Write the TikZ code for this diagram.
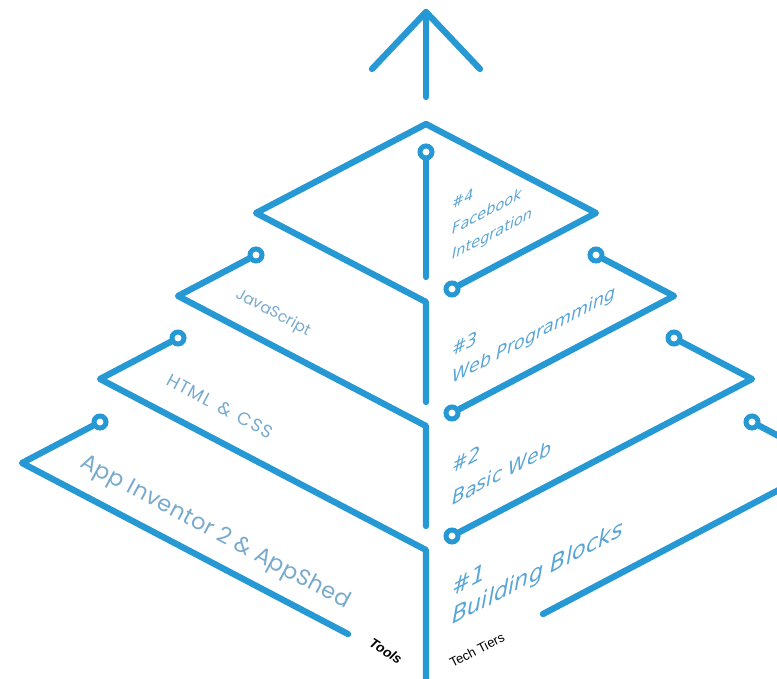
\documentclass[tikz,border=0pt]{standalone}
\usepackage{fontspec}
\setmainfont{DejaVu Sans}
\newfontfamily\rightfont{DejaVu Sans}
\newfontfamily\leftfont{Poppins}
\newfontfamily\tinyfont{Liberation Sans}
\definecolor{lineblue}{RGB}{38,152,212}
\definecolor{rtext}{RGB}{88,165,215}
\definecolor{ltext}{RGB}{120,170,205}
\begin{document}
\begin{tikzpicture}[x=1pt,y=-1pt,
  edge/.style={line width=6.3pt, draw=lineblue, line cap=round, line join=round},
  pin/.style={circle, draw=lineblue, line width=5pt, minimum size=12pt, inner sep=0pt},
  rlab/.style={anchor=base west, yslant=0.525, text=rtext, inner sep=0pt},
  llab/.style={rotate=-28, text=ltext, inner sep=0pt, anchor=center},
  tag/.style={text=black, inner sep=0pt, anchor=center},
]
\useasboundingbox (0,0) rectangle (777,679);
\clip (0,0) rectangle (777,679);

% arrow
\coordinate (tip) at (426,12);
\coordinate (armL) at (372,69);
\coordinate (armR) at (480,69);
\coordinate (shaftB) at (426,97);
\draw[edge] (armL) -- (tip) -- (armR);
\draw[edge] (tip) -- (shaftB);

% tier 4 (top diamond)
\coordinate (T4) at (426,124);
\coordinate (L4) at (256,213);
\coordinate (R4) at (596,213);
\coordinate (B4) at (426,302);
\coordinate (V4) at (426,402);
\coordinate (p4end) at (426,277);
\node[pin] (p4top) at (426,152) {};
\node[pin] (p4r) at (452,289) {};
\draw[edge] (V4) -- (B4) -- (L4) -- (T4) -- (R4) -- (p4r);
\draw[edge] (p4top) -- (p4end);

% tier 3
\node[pin] (p3l) at (256,255) {};
\coordinate (L3) at (178,296);
\coordinate (C3) at (426,426);
\coordinate (V3) at (426,526);
\draw[edge] (p3l) -- (L3) -- (C3) -- (V3);
\node[pin] (p3r) at (596,255) {};
\coordinate (R3) at (674,296);
\node[pin] (p3c) at (452,413) {};
\draw[edge] (p3r) -- (R3) -- (p3c);

% tier 2
\node[pin] (p2l) at (178,338) {};
\coordinate (L2) at (100,379);
\coordinate (C2) at (426,550);
\coordinate (V2) at (426,700);
\draw[edge] (p2l) -- (L2) -- (C2) -- (V2);
\node[pin] (p2r) at (674,338) {};
\coordinate (R2) at (752,379);
\node[pin] (p2c) at (452,536) {};
\draw[edge] (p2r) -- (R2) -- (p2c);

% tier 1
\node[pin] (p1l) at (100,422) {};
\coordinate (L1) at (22,463);
\coordinate (E1) at (348,634);
\draw[edge] (p1l) -- (L1) -- (E1);
\node[pin] (p1r) at (752,422) {};
\coordinate (R1) at (830,463);
\coordinate (E1r) at (543,614);
\draw[edge] (p1r) -- (R1) -- (E1r);

% right labels (tech tiers)
\node[rlab, font=\rightfont\itshape\fontsize{14.5}{14.5}\selectfont] (n4a) at (452,210) {\#4};
\node[rlab, font=\rightfont\itshape\fontsize{14.5}{14.5}\selectfont] (n4b) at (452,235) {Facebook};
\node[rlab, font=\rightfont\itshape\fontsize{14.5}{14.5}\selectfont] (n4c) at (452,260) {Integration};
\node[rlab, font=\rightfont\itshape\fontsize{17.5}{17.5}\selectfont] (n3a) at (452,357) {\#3};
\node[rlab, font=\rightfont\itshape\fontsize{17.5}{17.5}\selectfont] (n3b) at (452,384) {Web Programming};
\node[rlab, font=\rightfont\itshape\fontsize{19}{19}\selectfont] (n2a) at (452,474) {\#2};
\node[rlab, font=\rightfont\itshape\fontsize{19}{19}\selectfont] (n2b) at (452,506) {Basic Web};
\node[rlab, font=\rightfont\itshape\fontsize{22.5}{22.5}\selectfont] (n1a) at (452,597) {\#1};
\node[rlab, font=\rightfont\itshape\fontsize{22.5}{22.5}\selectfont] (n1b) at (452,625) {Building Blocks};

% left labels (tools)
\node[llab, font=\leftfont\fontsize{15.5}{15.5}\selectfont] (t3) at (273,313) {JavaScript};
\node[llab, font=\leftfont\fontsize{18}{18}\selectfont\addfontfeatures{LetterSpace=6}] (t2) at (220,406) {HTML \,\&\, CSS};
\node[llab, font=\leftfont\fontsize{22.5}{22.5}\selectfont\addfontfeatures{LetterSpace=2}] (t1) at (215,533) {App Inventor 2 \& AppShed};

% axis tags
\node[tag, rotate=-33, font=\tinyfont\itshape\bfseries\fontsize{13.5}{13.5}\selectfont] (tools) at (386,651) {Tools};
\node[tag, rotate=27, font=\tinyfont\fontsize{13}{13}\selectfont] (tiers) at (477,650) {Tech Tiers};
\end{tikzpicture}
\end{document}
